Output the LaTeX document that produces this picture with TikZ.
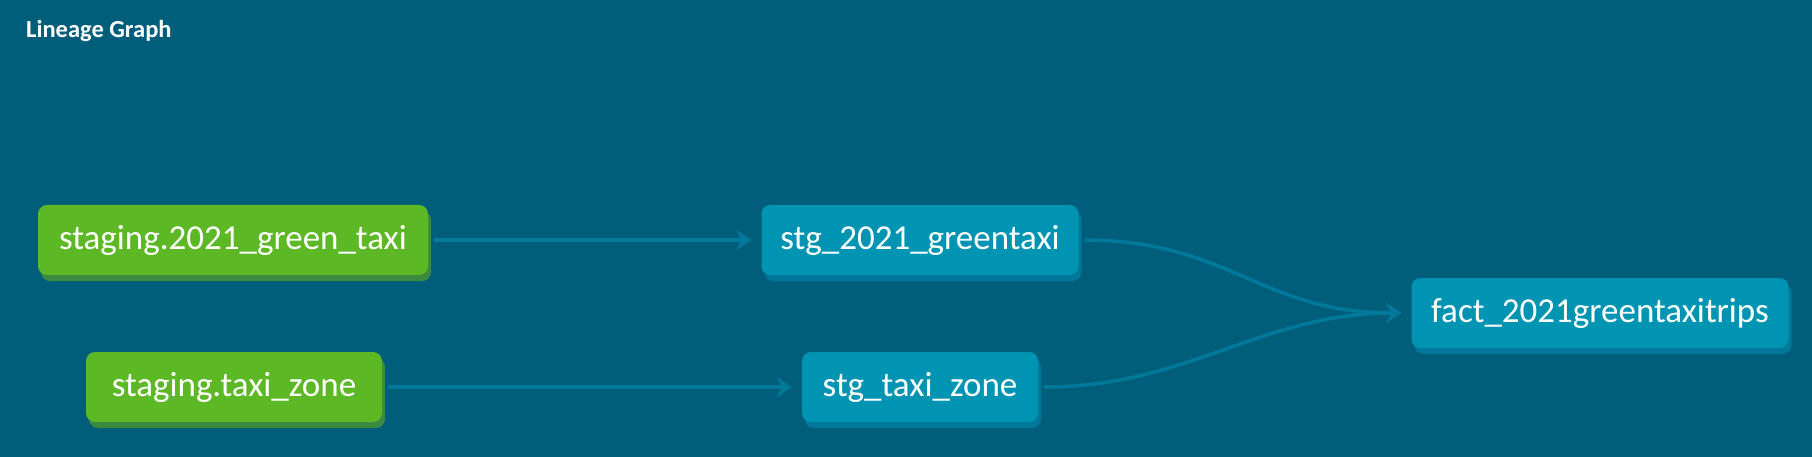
\documentclass[tikz,border=0pt]{standalone}
\usepackage{fontspec}
\setmainfont{Carlito}
\usepackage{xcolor}
\usetikzlibrary{arrows.meta, shadows}

\definecolor{graphbg}{HTML}{005E7A}
\definecolor{srcgreen}{HTML}{5DB826}
\definecolor{srcshadow}{HTML}{3A8B40}
\definecolor{mdlblue}{HTML}{0094B3}
\definecolor{mdlshadow}{HTML}{00789A}
\definecolor{edgeblue}{HTML}{00799A}

\begin{document}
\begin{tikzpicture}[
			x=1pt, y=-1pt,
			every node/.style={font=\fontsize{35}{40}\selectfont, text=white},
			srcnode/.style={fill=srcgreen, rounded corners=9pt, minimum height=70pt,
				drop shadow={shadow xshift=3pt, shadow yshift=-6pt, fill=srcshadow, opacity=1}},
			mdlnode/.style={fill=mdlblue, rounded corners=9pt, minimum height=70pt,
				drop shadow={shadow xshift=3pt, shadow yshift=-6pt, fill=mdlshadow, opacity=1}},
			link/.style={draw=edgeblue, line width=3.5pt, shorten <=6pt, shorten >=10pt,
				-{Stealth[length=15pt, width=20pt, inset=5pt]}}
			]
			
			% Fondo
			\fill[graphbg] (0,0) rectangle (1812,457);
			\useasboundingbox (0,0) rectangle (1812,457);
			
			\node[anchor=base west, inner sep=0pt, font=\fontsize{24.5}{28}\selectfont\bfseries] (title) at (26,38)
			{Lineage Graph};
			
			% Fuentes
			\node[srcnode, minimum width=390pt] (src1) at (233,240)
			{staging.2021\_green\_taxi};
			
			\node[srcnode, minimum width=296pt] (src2) at (234,387)
			{staging.taxi\_zone};
			
			% Modelos
			\node[mdlnode, minimum width=317pt] (stg1) at (920,240)
			{stg\_2021\_greentaxi};
			
			\node[mdlnode, minimum width=236pt] (stg2) at (920,387)
			{stg\_taxi\_zone};
			
			\node[mdlnode, minimum width=377pt] (fact) at (1600,313)
			{fact\_2021greentaxitrips};
			
			% Flechas
			\draw[link] (src1) -- (stg1);
			\draw[link] (src2) -- (stg2);
			\draw[link] (stg1.east) .. controls +(150,0) and +(-150,0) .. (fact.west);
			\draw[link] (stg2.east) .. controls +(150,0) and +(-150,0) .. (fact.west);
			
		\end{tikzpicture}
\end{document}
